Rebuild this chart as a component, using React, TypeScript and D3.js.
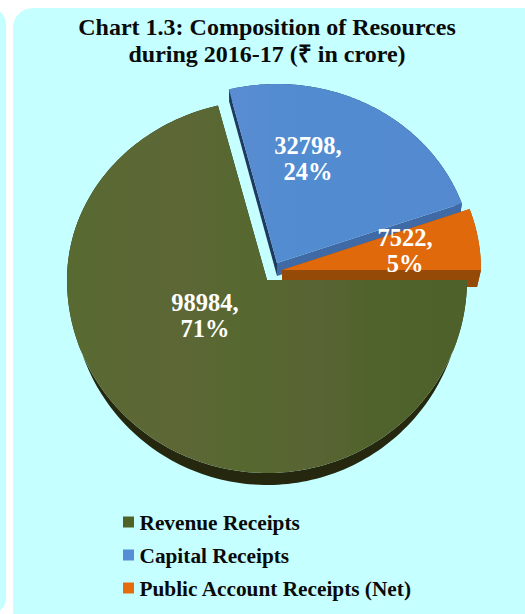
import React from "react";
import * as d3 from "d3";

const categories = ["Revenue Receipts", "Capital Receipts", "Public Account Receipts (Net)"];
const amounts = [98984, 32798, 7522];
const shares = ["71%", "24%", "5%"];
const titleLines = ["Chart 1.3: Composition of Resources", "during 2016-17 (₹ in crore)"];

const topColors = ["#566630", "#558ed5", "#e0690b"];
const wallColors = ["#25280f", "#1f3a60", "#964a08"];
const cutColors = ["#25280f", "#3f6aa6", "#964a08"];
const legendColors = ["#4f6228", "#558ed5", "#e46c0a"];

const width = 525;
const height = 614;
const serif = "'Liberation Serif', 'Times New Roman', serif";

// each slice has its own explode offset and the view is tilted, so near side is bigger
const placements = [
  { cx: 267, cy: 280, rx: 200, rxBack: 195, above: 180, below: 193, depth: 12 },
  { cx: 277, cy: 263, rx: 196, rxBack: 194, above: 179, below: 190, depth: 13 },
  { cx: 282, cy: 270, rx: 199, rxBack: 195, above: 183, below: 190, depth: 17 },
];
const labelAt = [
  [205, 311],
  [308, 154],
  [405, 246],
];

const pie = d3.pie<number>().sort(null).startAngle(Math.PI / 2).endAngle(Math.PI * 2.5);
const arcs = pie(amounts);
const outline = d3.line();

function project(i: number, angle: number, r: number, drop = 0): [number, number] {
  const p = placements[i];
  const u = Math.sin(angle) * r;
  const v = -Math.cos(angle) * r;
  const yScale = d3.scaleLinear().domain([-1, 0, 1]).range([-p.above, 0, p.below]);
  return [p.cx + (drop ? p.rxBack : p.rx) * u, p.cy + yScale(v) + drop];
}

function rim(i: number, drop = 0) {
  const a = arcs[i];
  return d3
    .range(0, 181)
    .map((k) => project(i, a.startAngle + ((a.endAngle - a.startAngle) * k) / 180, 1, drop));
}

function topFace(i: number) {
  return outline([project(i, 0, 0), ...rim(i)]) + "Z";
}
function rimWall(i: number) {
  return outline([...rim(i), ...rim(i, placements[i].depth).reverse()]) + "Z";
}
function cutWall(i: number, angle: number) {
  const d = placements[i].depth;
  return (
    outline([project(i, 0, 0), project(i, angle, 1), project(i, angle, 1, d), project(i, 0, 0, d)]) + "Z"
  );
}

const paintOrder = [1, 2, 0];

export default function App() {
  return (
    <svg
      width={width}
      height={height}
      style={{ position: "absolute", left: 0, top: 0, background: "#fff" }}
    >
      <defs>
        <linearGradient id="olive" x1="0" x2="1" y1="0" y2="0">
          <stop offset="0" stopColor="#576a31" />
          <stop offset="0.12" stopColor="#5b6834" />
          <stop offset="0.3" stopColor="#5c6735" />
          <stop offset="0.45" stopColor="#566830" />
          <stop offset="0.62" stopColor="#596434" />
          <stop offset="0.75" stopColor="#51632c" />
          <stop offset="1" stopColor="#4f612a" />
        </linearGradient>
        <linearGradient id="blue" x1="0" x2="1" y1="0" y2="0">
          <stop offset="0" stopColor="#5a8cd2" />
          <stop offset="0.3" stopColor="#528cd0" />
          <stop offset="1" stopColor="#5489d0" />
        </linearGradient>
      </defs>
      <rect x={-30} y={8} width={36} height={606} rx={16} fill="#c6ffff" />
      <rect x={13} y={8} width={560} height={640} rx={20} fill="#c6ffff" />

      {titleLines.map((t, i) => (
        <text
          key={t}
          x={267}
          y={35 + i * 27}
          textAnchor="middle"
          fontFamily={serif}
          fontWeight="bold"
          fontSize={24}
          fill="#0a0a0a"
        >
          {t}
        </text>
      ))}

      {paintOrder.map((i) => (
        <g key={categories[i]}>
          <path d={rimWall(i)} fill={wallColors[i]} />
          <path d={cutWall(i, arcs[i].startAngle)} fill={i === 1 ? wallColors[i] : cutColors[i]} />
          <path d={cutWall(i, arcs[i].endAngle)} fill={cutColors[i]} />
          <path
            d={topFace(i)}
            fill={i === 0 ? "url(#olive)" : i === 1 ? "url(#blue)" : topColors[i]}
          />
        </g>
      ))}

      {amounts.map((v, i) => (
        <text
          key={v}
          textAnchor="middle"
          fontFamily={serif}
          fontWeight="bold"
          fontSize={24.5}
          fill="#fff"
        >
          <tspan x={labelAt[i][0]} y={labelAt[i][1]}>{`${v},`}</tspan>
          <tspan x={labelAt[i][0]} dy={26}>
            {shares[i]}
          </tspan>
        </text>
      ))}

      {categories.map((c, i) => (
        <g key={c} transform={`translate(123, ${516.5 + i * 33})`}>
          <rect width={11} height={11} fill={legendColors[i]} />
          <text
            x={16.5}
            y={13}
            fontFamily={serif}
            fontWeight="bold"
            fontSize={21.3}
            fill="#0a0a0a"
          >
            {c}
          </text>
        </g>
      ))}
    </svg>
  );
}
